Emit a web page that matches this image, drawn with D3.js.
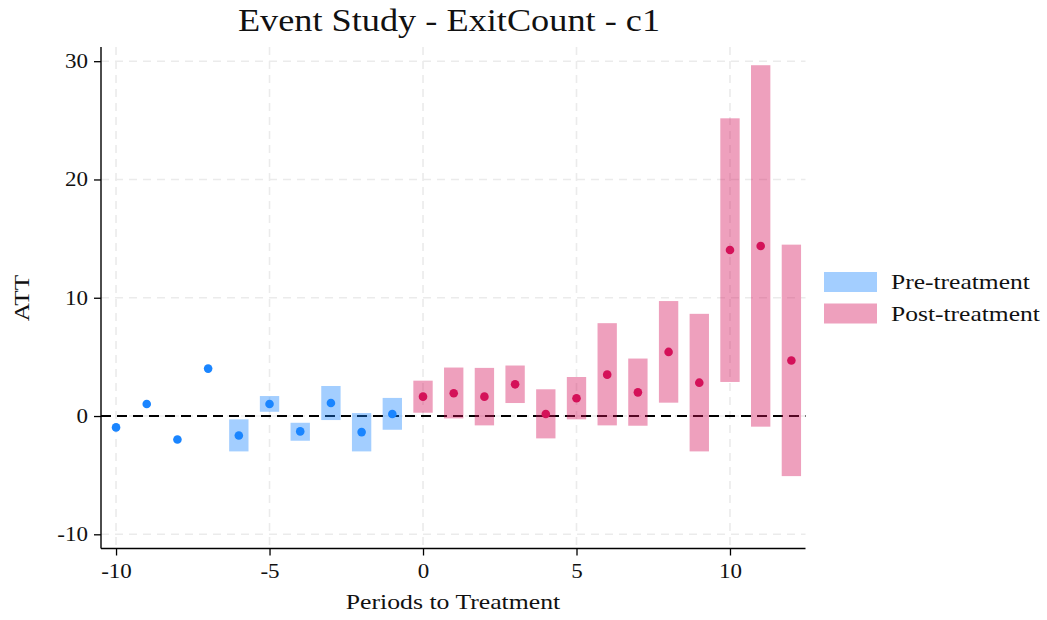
<!DOCTYPE html>
<html>
<head>
<meta charset="utf-8">
<script src="https://cdn.jsdelivr.net/npm/d3@7"></script>
<style>
  html, body { margin: 0; padding: 0; background: #fff; }
  svg { display: block; }
  text { font-family: "Liberation Serif", "Times New Roman", serif; fill: #111; }
</style>
</head>
<body>
<svg id="chart" width="1047" height="620"></svg>
<script>
// ---- data ----
const prePeriods = [-10, -9, -8, -7, -6, -5, -4, -3, -2, -1];
const preATT     = [-0.96, 1.02, -1.98, 4.01, -1.64, 1.02, -1.30, 1.10, -1.36, 0.17];
const preLow     = [null, null, null, null, -2.99, 0.36, -2.09, -0.34, -2.99, -1.16];
const preHigh    = [null, null, null, null, -0.28, 1.69, -0.57, 2.54, 0.25, 1.53];

const postPeriods = [0, 1, 2, 3, 4, 5, 6, 7, 8, 9, 10, 11, 12];
const postATT     = [1.64, 1.92, 1.64, 2.68, 0.17, 1.50, 3.50, 2.00, 5.42, 2.82, 14.04, 14.38, 4.69];
const postLow     = [0.28, -0.20, -0.79, 1.10, -1.89, -0.28, -0.79, -0.82, 1.13, -2.99, 2.88, -0.90, -5.08];
const postHigh    = [2.99, 4.10, 4.07, 4.27, 2.26, 3.30, 7.85, 4.86, 9.72, 8.64, 25.17, 29.66, 14.49];

const xTicks = [-10, -5, 0, 5, 10];
const yTicks = [-10, 0, 10, 20, 30];
const legendLabels = ["Pre-treatment", "Post-treatment"];

const titleText = "Event Study - ExitCount - c1";
const xLabel = "Periods to Treatment";
const yLabel = "ATT";

// ---- styling ----
const BLUE = "#1a85ff", PINK = "#d41159";

const svg = d3.select("#chart");
const mLeft = 101, mRight = 805.5, mTop = 47, mBottom = 548.5;

const x = d3.scaleLinear().domain([-10.49, 12.46]).range([mLeft, mRight]);
const y = d3.scaleLinear().domain([-11.2, 31.2]).range([mBottom, mTop]);
const barW = x(0.315) - x(0);

function stretch(sel, k = 1.15) {
  sel.each(function () {
    const L = this.getComputedTextLength();
    d3.select(this).attr("textLength", L * k).attr("lengthAdjust", "spacingAndGlyphs");
  });
  return sel;
}

// grid
const grid = svg.append("g");
grid.selectAll("line.gx").data(xTicks).join("line")
  .attr("x1", d => x(d)).attr("x2", d => x(d)).attr("y1", mTop).attr("y2", mBottom)
  .attr("stroke", "#ebebeb").attr("stroke-width", 1.6).attr("stroke-dasharray", "8,6");
grid.selectAll("line.gy").data(yTicks).join("line")
  .attr("x1", mLeft).attr("x2", mRight).attr("y1", d => y(d)).attr("y2", d => y(d))
  .attr("stroke", "#ebebeb").attr("stroke-width", 1.6).attr("stroke-dasharray", "8,6");

// zero line
svg.append("line")
  .attr("x1", mLeft).attr("x2", mRight).attr("y1", y(0)).attr("y2", y(0))
  .attr("stroke", "#000").attr("stroke-width", 2).attr("stroke-dasharray", "10,6");

// data rows
const pre = prePeriods.map((p, i) => ({ p, att: preATT[i], lo: preLow[i], hi: preHigh[i] }));
const post = postPeriods.map((p, i) => ({ p, att: postATT[i], lo: postLow[i], hi: postHigh[i] }));

// CI bars
svg.append("g").selectAll("rect").data(pre.filter(d => d.lo !== null)).join("rect")
  .attr("x", d => x(d.p) - barW).attr("width", 2 * barW)
  .attr("y", d => y(d.hi)).attr("height", d => y(d.lo) - y(d.hi))
  .attr("fill", BLUE).attr("fill-opacity", 0.4);
svg.append("g").selectAll("rect").data(post).join("rect")
  .attr("x", d => x(d.p) - barW).attr("width", 2 * barW)
  .attr("y", d => y(d.hi)).attr("height", d => y(d.lo) - y(d.hi))
  .attr("fill", PINK).attr("fill-opacity", 0.4);

// points
svg.append("g").selectAll("circle").data(pre).join("circle")
  .attr("cx", d => x(d.p)).attr("cy", d => y(d.att)).attr("r", 4.3).attr("fill", BLUE);
svg.append("g").selectAll("circle").data(post).join("circle")
  .attr("cx", d => x(d.p)).attr("cy", d => y(d.att)).attr("r", 4.3).attr("fill", PINK);

// axes
const fmt = d => String(d);
const xAxis = svg.append("g").attr("transform", `translate(0,${mBottom})`)
  .call(d3.axisBottom(x).tickValues(xTicks).tickFormat(fmt).tickSize(7).tickPadding(8));
const yAxis = svg.append("g").attr("transform", `translate(${mLeft},0)`)
  .call(d3.axisLeft(y).tickValues(yTicks).tickFormat(fmt).tickSize(7).tickPadding(6));
[xAxis, yAxis].forEach(a => {
  a.attr("font-family", null);
  a.select(".domain").attr("stroke", "#000").attr("stroke-width", 1.4);
  a.selectAll(".tick line").attr("stroke", "#000").attr("stroke-width", 1.3);
  a.selectAll(".tick text").attr("font-size", 20).attr("fill", "#111");
});
xAxis.select(".domain").attr("d", `M${mLeft},0H${mRight}`);
yAxis.select(".domain").attr("d", `M0,${mTop}V${mBottom}`);
stretch(xAxis.selectAll(".tick text"));
stretch(yAxis.selectAll(".tick text"));

// title & labels
stretch(svg.append("text").attr("x", 449).attr("y", 31).attr("text-anchor", "middle")
  .attr("font-size", 31).text(titleText), 1.17);
stretch(svg.append("text").attr("x", 453).attr("y", 609).attr("text-anchor", "middle")
  .attr("font-size", 22).text(xLabel), 1.17);
stretch(svg.append("text").attr("transform", `translate(29,298) rotate(-90)`).attr("text-anchor", "middle")
  .attr("font-size", 22).text(yLabel));

// legend
const legend = svg.append("g");
const lg = legend.selectAll("g").data(legendLabels).join("g")
  .attr("transform", (d, i) => `translate(824,${272 + i * 31.5})`);
lg.append("rect").attr("width", 53).attr("height", 20)
  .attr("fill", (d, i) => i === 0 ? BLUE : PINK).attr("fill-opacity", 0.4);
stretch(lg.append("text").attr("x", 67).attr("y", 17).attr("font-size", 22).text(d => d), 1.16);
</script>
</body>
</html>
